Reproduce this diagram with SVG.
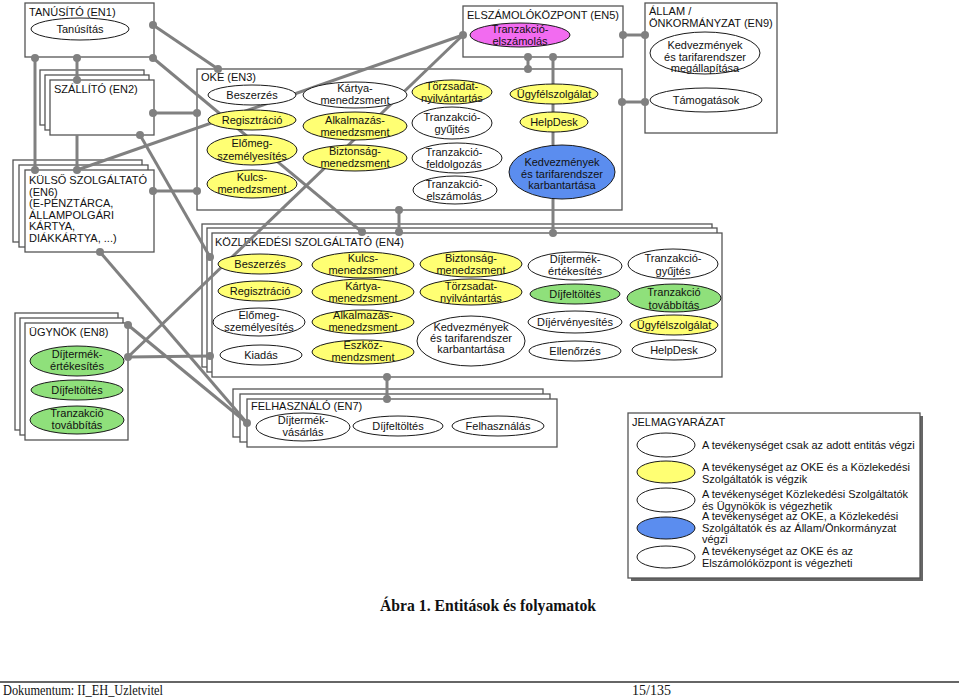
<svg xmlns="http://www.w3.org/2000/svg" width="959" height="698" viewBox="0 0 959 698">
<defs><style>
.bx{fill:#fff;stroke:#555;stroke-width:1.3}
.el{stroke:#1a1a1a;stroke-width:1}
.w{fill:#fff}.y{fill:#ffff73}.g{fill:#8fe07b}.b{fill:#5b8def}.m{fill:#f26bf0}
text{font-family:"Liberation Sans",Arial,sans-serif;font-size:11px;fill:#111}
.c{text-anchor:middle}
#connectors line{stroke:#808080;stroke-width:3}
#connectors circle{fill:#808080}
.cap{font-family:"Liberation Serif","Times New Roman",serif;font-weight:bold;font-size:16px}
.ft{font-family:"Liberation Serif","Times New Roman",serif;font-size:14px}
</style></defs>
<rect width="959" height="698" fill="#fff"/>

<!-- containers -->
<g id="en1"><rect class="bx" x="25" y="3" width="129" height="54"/><text x="29" y="16">TANÚSÍTÓ (EN1)</text></g>
<g id="en2"><rect class="bx" x="40" y="70" width="104" height="55"/><rect class="bx" x="45" y="75" width="104" height="55"/><rect class="bx" x="50" y="80" width="104" height="55"/><text x="54" y="93">SZÁLLÍTÓ (EN2)</text></g>
<g id="en6"><rect class="bx" x="13" y="160" width="129" height="82"/><rect class="bx" x="19" y="165" width="129" height="82"/><rect class="bx" x="25" y="170" width="129" height="82"/>
<text x="29" y="184"><tspan x="29">KÜLSŐ SZOLGÁLTATÓ</tspan><tspan x="29" dy="11.5">(EN6)</tspan><tspan x="29" dy="11.5">(E-PÉNZTÁRCA,</tspan><tspan x="29" dy="11.5">ÁLLAMPOLGÁRI</tspan><tspan x="29" dy="11.5">KÁRTYA,</tspan><tspan x="29" dy="11.5">DIÁKKÁRTYA, ...)</tspan></text></g>
<g id="en8"><rect class="bx" x="15" y="313" width="103" height="117"/><rect class="bx" x="20" y="318" width="103" height="117"/><rect class="bx" x="25" y="323" width="103" height="117"/><text x="29" y="336">ÜGYNÖK (EN8)</text></g>
<g id="en3"><rect class="bx" x="197" y="69" width="425" height="141"/><text x="201" y="81">OKE (EN3)</text></g>
<g id="en4"><rect class="bx" x="202" y="224" width="510" height="143"/><rect class="bx" x="207" y="228" width="510" height="144"/><rect class="bx" x="212" y="233" width="510" height="144"/><text x="215" y="246">KÖZLEKEDÉSI SZOLGÁLTATÓ (EN4)</text></g>
<g id="en5"><rect class="bx" x="463" y="6" width="160" height="51"/><text x="467" y="19">ELSZÁMOLÓKÖZPONT (EN5)</text></g>
<g id="en9"><rect class="bx" x="645" y="3" width="132" height="130"/><text x="649" y="15"><tspan x="649">ÁLLAM /</tspan><tspan x="649" dy="12">ÖNKORMÁNYZAT (EN9)</tspan></text></g>
<g id="en7"><rect class="bx" x="233" y="389" width="310" height="48"/><rect class="bx" x="240" y="394" width="310" height="48"/><rect class="bx" x="247" y="399" width="310" height="48"/><text x="251" y="410">FELHASZNÁLÓ (EN7)</text></g>

<!-- connectors -->
<g id="connectors">
<line x1="153" y1="25" x2="218" y2="69"/>
<line x1="153" y1="58" x2="362" y2="232"/>
<line x1="35" y1="58" x2="35" y2="170"/>
<line x1="77" y1="58" x2="77" y2="80"/>
<line x1="77" y1="135" x2="77" y2="170"/>
<line x1="153" y1="113" x2="197" y2="113"/>
<line x1="153" y1="191" x2="197" y2="191"/>
<line x1="77" y1="170" x2="463" y2="35"/>
<line x1="463" y1="35" x2="128" y2="357"/>
<line x1="140" y1="135" x2="210" y2="257"/>
<line x1="128" y1="357" x2="210" y2="356"/>
<line x1="399" y1="210" x2="399" y2="232"/>
<line x1="528" y1="57" x2="528" y2="69"/>
<line x1="553" y1="57" x2="553" y2="233"/>
<line x1="623" y1="35" x2="645" y2="35"/>
<line x1="622" y1="102" x2="645" y2="102"/>
<line x1="387" y1="377" x2="387" y2="399"/>
<line x1="100" y1="252" x2="247" y2="423"/>
<line x1="128" y1="325" x2="247" y2="423"/>
<circle cx="153" cy="25" r="4"/><circle cx="218" cy="69" r="4"/>
<circle cx="153" cy="58" r="4"/><circle cx="362" cy="232" r="4"/>
<circle cx="35" cy="58" r="4"/><circle cx="35" cy="170" r="4"/>
<circle cx="77" cy="58" r="4"/><circle cx="77" cy="80" r="4"/><circle cx="77" cy="170" r="4"/>
<circle cx="153" cy="113" r="4"/><circle cx="197" cy="113" r="4"/>
<circle cx="153" cy="191" r="4"/><circle cx="197" cy="191" r="4"/>
<circle cx="463" cy="35" r="4"/><circle cx="128" cy="357" r="4"/>
<circle cx="140" cy="135" r="4"/><circle cx="210" cy="257" r="4"/>
<circle cx="210" cy="356" r="4"/>
<circle cx="399" cy="210" r="4"/><circle cx="399" cy="232" r="4"/>
<circle cx="528" cy="57" r="4"/><circle cx="528" cy="69" r="4"/>
<circle cx="553" cy="57" r="4"/><circle cx="553" cy="233" r="4"/>
<circle cx="623" cy="35" r="4"/><circle cx="645" cy="35" r="4"/>
<circle cx="622" cy="102" r="4"/><circle cx="645" cy="102" r="4"/>
<circle cx="387" cy="377" r="4"/><circle cx="387" cy="399" r="4"/>
<circle cx="100" cy="252" r="4"/><circle cx="128" cy="325" r="4"/><circle cx="247" cy="423" r="4"/>
</g>

<!-- activities -->
<g id="a_tanusitas"><ellipse class="el w" cx="80" cy="29" rx="49" ry="11"/><text class="c" x="80" y="33">Tanúsítás</text></g>

<g id="o_besz"><ellipse class="el w" cx="252" cy="95" rx="44" ry="10"/><text class="c" x="252" y="99">Beszerzés</text></g>
<g id="o_reg"><ellipse class="el y" cx="252" cy="120" rx="44" ry="10"/><text class="c" x="252" y="124">Regisztráció</text></g>
<g id="o_elo"><ellipse class="el y" cx="252" cy="150" rx="45" ry="15"/><text class="c" x="252" y="147"><tspan x="252">Előmeg-</tspan><tspan x="252" dy="13">személyesítés</tspan></text></g>
<g id="o_kulcs"><ellipse class="el y" cx="252" cy="184" rx="45" ry="14"/><text class="c" x="252" y="181"><tspan x="252">Kulcs-</tspan><tspan x="252" dy="12">menedzsment</tspan></text></g>
<g id="o_kartya"><ellipse class="el w" cx="355" cy="95" rx="52" ry="13"/><text class="c" x="355" y="92"><tspan x="355">Kártya-</tspan><tspan x="355" dy="12">menedzsment</tspan></text></g>
<g id="o_alk"><ellipse class="el y" cx="355" cy="126" rx="52" ry="14"/><text class="c" x="355" y="124"><tspan x="355">Alkalmazás-</tspan><tspan x="355" dy="12">menedzsment</tspan></text></g>
<g id="o_bizt"><ellipse class="el y" cx="355" cy="158" rx="52" ry="13"/><text class="c" x="355" y="155"><tspan x="355">Biztonság-</tspan><tspan x="355" dy="12">menedzsment</tspan></text></g>
<g id="o_torzs"><ellipse class="el y" cx="452" cy="92" rx="40" ry="12"/><text class="c" x="452" y="90"><tspan x="452">Törzsadat-</tspan><tspan x="452" dy="12">nyilvántartás</tspan></text></g>
<g id="o_tgy"><ellipse class="el w" cx="452" cy="123" rx="40" ry="16"/><text class="c" x="452" y="121"><tspan x="452">Tranzakció-</tspan><tspan x="452" dy="12">gyűjtés</tspan></text></g>
<g id="o_tf"><ellipse class="el w" cx="457" cy="158" rx="45" ry="15"/><text class="c" x="454" y="156"><tspan x="454">Tranzakció-</tspan><tspan x="454" dy="12">feldolgozás</tspan></text></g>
<g id="o_te"><ellipse class="el w" cx="455" cy="190" rx="42" ry="14"/><text class="c" x="454" y="188"><tspan x="454">Tranzakció-</tspan><tspan x="454" dy="12">elszámolás</tspan></text></g>
<g id="o_ugy"><ellipse class="el y" cx="554" cy="94" rx="44" ry="10"/><text class="c" x="554" y="98">Ügyfélszolgálat</text></g>
<g id="o_help"><ellipse class="el y" cx="554" cy="122" rx="34" ry="10"/><text class="c" x="554" y="126">HelpDesk</text></g>
<g id="o_kedv"><ellipse class="el b" cx="562" cy="172" rx="53" ry="27"/><text class="c" x="562" y="166"><tspan x="562">Kedvezmények</tspan><tspan x="562" dy="11.5">és tarifarendszer</tspan><tspan x="562" dy="11.5">karbantartása</tspan></text></g>

<g id="e_tr"><ellipse class="el m" cx="520" cy="35" rx="50" ry="12"/><text class="c" x="520" y="33"><tspan x="520">Tranzakció-</tspan><tspan x="520" dy="12">elszámolás</tspan></text></g>

<g id="s_kedv"><ellipse class="el w" cx="705" cy="53" rx="55" ry="21"/><text class="c" x="705" y="49"><tspan x="705">Kedvezmények</tspan><tspan x="705" dy="11.5">és tarifarendszer</tspan><tspan x="705" dy="11.5">megállapítása</tspan></text></g>
<g id="s_tam"><ellipse class="el w" cx="706" cy="100" rx="56" ry="12"/><text class="c" x="706" y="104">Támogatások</text></g>

<g id="u_ert"><ellipse class="el g" cx="77" cy="361" rx="47" ry="15"/><text class="c" x="77" y="358"><tspan x="77">Díjtermék-</tspan><tspan x="77" dy="12">értékesítés</tspan></text></g>
<g id="u_fel"><ellipse class="el g" cx="77" cy="390" rx="46" ry="10"/><text class="c" x="77" y="394">Díjfeltöltés</text></g>
<g id="u_tov"><ellipse class="el g" cx="77" cy="420" rx="47" ry="14"/><text class="c" x="77" y="417"><tspan x="77">Tranzakció</tspan><tspan x="77" dy="12">továbbítás</tspan></text></g>

<g id="k_besz"><ellipse class="el y" cx="260" cy="264" rx="42" ry="10"/><text class="c" x="260" y="268">Beszerzés</text></g>
<g id="k_reg"><ellipse class="el y" cx="260" cy="291" rx="42" ry="10"/><text class="c" x="260" y="295">Regisztráció</text></g>
<g id="k_elo"><ellipse class="el w" cx="259" cy="322" rx="46" ry="14"/><text class="c" x="259" y="319"><tspan x="259">Előmeg-</tspan><tspan x="259" dy="12">személyesítés</tspan></text></g>
<g id="k_kiad"><ellipse class="el w" cx="261" cy="355" rx="41" ry="10"/><text class="c" x="261" y="359">Kiadás</text></g>
<g id="k_kulcs"><ellipse class="el y" cx="363" cy="265" rx="51" ry="13"/><text class="c" x="363" y="262"><tspan x="363">Kulcs-</tspan><tspan x="363" dy="12">menedzsment</tspan></text></g>
<g id="k_kartya"><ellipse class="el y" cx="363" cy="292" rx="51" ry="13"/><text class="c" x="363" y="290"><tspan x="363">Kártya-</tspan><tspan x="363" dy="12">menedzsment</tspan></text></g>
<g id="k_alk"><ellipse class="el y" cx="363" cy="322" rx="51" ry="12"/><text class="c" x="363" y="319"><tspan x="363">Alkalmazás-</tspan><tspan x="363" dy="12">menedzsment</tspan></text></g>
<g id="k_eszk"><ellipse class="el y" cx="363" cy="352" rx="51" ry="12"/><text class="c" x="363" y="349"><tspan x="363">Eszköz-</tspan><tspan x="363" dy="12">mendzsment</tspan></text></g>
<g id="k_bizt"><ellipse class="el y" cx="471" cy="264" rx="51" ry="13"/><text class="c" x="471" y="262"><tspan x="471">Biztonság-</tspan><tspan x="471" dy="12">menedzsment</tspan></text></g>
<g id="k_torzs"><ellipse class="el y" cx="471" cy="292" rx="51" ry="13"/><text class="c" x="471" y="290"><tspan x="471">Törzsadat-</tspan><tspan x="471" dy="12">nyilvántartás</tspan></text></g>
<g id="k_kedv"><ellipse class="el w" cx="471" cy="341" rx="54" ry="25"/><text class="c" x="471" y="331"><tspan x="471">Kedvezmények</tspan><tspan x="471" dy="11">és tarifarendszer</tspan><tspan x="471" dy="11">karbantartása</tspan></text></g>
<g id="d_ert"><ellipse class="el w" cx="575" cy="266" rx="47" ry="14"/><text class="c" x="575" y="263"><tspan x="575">Díjtermék-</tspan><tspan x="575" dy="12">értékesítés</tspan></text></g>
<g id="d_fel"><ellipse class="el g" cx="575" cy="294" rx="45" ry="10"/><text class="c" x="575" y="298">Díjfeltöltés</text></g>
<g id="d_erv"><ellipse class="el w" cx="575" cy="322" rx="47" ry="11"/><text class="c" x="575" y="326">Díjérvényesítés</text></g>
<g id="d_ell"><ellipse class="el w" cx="575" cy="351" rx="46" ry="10"/><text class="c" x="575" y="355">Ellenőrzés</text></g>
<g id="t_gy"><ellipse class="el w" cx="673" cy="264" rx="45" ry="15"/><text class="c" x="673" y="262"><tspan x="673">Tranzakció-</tspan><tspan x="673" dy="13">gyűjtés</tspan></text></g>
<g id="t_tov"><ellipse class="el g" cx="674" cy="298" rx="47" ry="14"/><text class="c" x="674" y="296"><tspan x="674">Tranzakció</tspan><tspan x="674" dy="13">továbbítás</tspan></text></g>
<g id="t_ugy"><ellipse class="el y" cx="674" cy="325" rx="44" ry="10"/><text class="c" x="674" y="329">Ügyfélszolgálat</text></g>
<g id="t_help"><ellipse class="el w" cx="674" cy="350" rx="42" ry="10"/><text class="c" x="674" y="354">HelpDesk</text></g>

<g id="f_vas"><ellipse class="el w" cx="303" cy="427" rx="47" ry="14"/><text class="c" x="303" y="424"><tspan x="303">Díjtermék-</tspan><tspan x="303" dy="12">vásárlás</tspan></text></g>
<g id="f_fel"><ellipse class="el w" cx="398" cy="426" rx="45" ry="10"/><text class="c" x="398" y="430">Díjfeltöltés</text></g>
<g id="f_hasz"><ellipse class="el w" cx="498" cy="426" rx="46" ry="10"/><text class="c" x="498" y="430">Felhasználás</text></g>

<!-- legend -->
<g id="legend">
<rect x="631" y="416" width="292" height="165" fill="#666"/>
<rect class="bx" x="628" y="413" width="292" height="165"/>
<text x="632" y="426">JELMAGYARÁZAT</text>
<ellipse class="el w" cx="666" cy="445" rx="29" ry="12"/>
<ellipse class="el y" cx="666" cy="472" rx="29" ry="11"/>
<ellipse class="el w" cx="666" cy="500" rx="29" ry="12"/>
<ellipse class="el b" cx="666" cy="528" rx="29" ry="11"/>
<ellipse class="el w" cx="666" cy="557" rx="29" ry="11"/>
<text x="702" y="449">A tevékenységet csak az adott entitás végzi</text>
<text x="702" y="471"><tspan x="702">A tevékenységet az OKE és a Közlekedési</tspan><tspan x="702" dy="11.5">Szolgáltatók is végzik</tspan></text>
<text x="702" y="498"><tspan x="702">A tevékenységet Közlekedési Szolgáltatók</tspan><tspan x="702" dy="11.5">és Ügynökök is végezhetik</tspan></text>
<text x="702" y="520"><tspan x="702">A tevékenységet az OKE, a Közlekedési</tspan><tspan x="702" dy="11.5">Szolgáltatók és az Állam/Önkormányzat</tspan><tspan x="702" dy="11.5">végzi</tspan></text>
<text x="702" y="555"><tspan x="702">A tevékenységet az OKE és az</tspan><tspan x="702" dy="11.5">Elszámolóközpont is végezheti</tspan></text>
</g>

<text class="cap" x="380" y="611" textLength="216" lengthAdjust="spacingAndGlyphs">Ábra 1. Entitások és folyamatok</text>
<line x1="0" y1="682" x2="959" y2="682" stroke="#333" stroke-width="1.5"/>
<text class="ft" x="3" y="695" textLength="160" lengthAdjust="spacingAndGlyphs">Dokumentum: II_EH_Uzletvitel</text>
<text class="ft" x="632" y="695">15/135</text>
</svg>
